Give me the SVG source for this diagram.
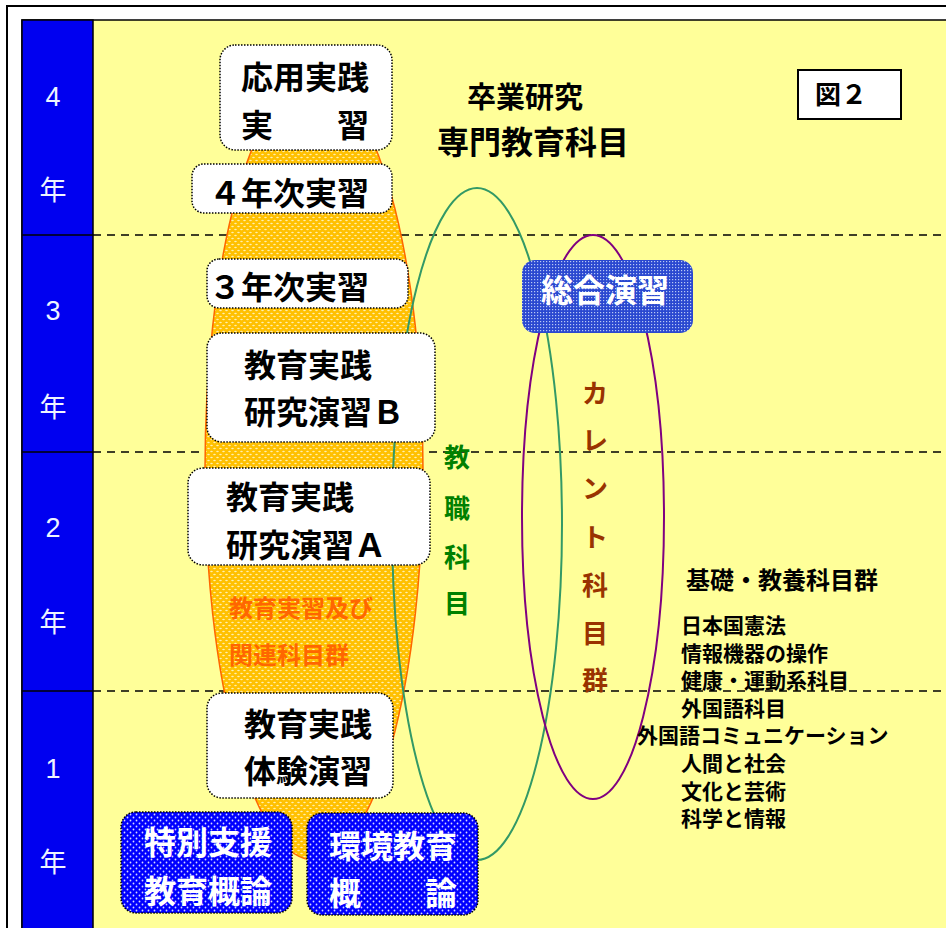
<svg xmlns="http://www.w3.org/2000/svg" width="946" height="928" viewBox="0 0 946 928">
<style>
.jp{font-family:"Noto Sans CJK JP","Noto Sans CJK SC",sans-serif;font-weight:bold;}
.box{fill:#FFFFFF;stroke:#000;stroke-width:1.5;stroke-dasharray:1.5 1.5;}
.bbox{fill:url(#pBlue);stroke:#000;stroke-width:1.5;stroke-dasharray:1.5 1.5;}
.t32{font-size:32px;fill:#000;}
.w32{font-size:32px;fill:#FFFFFF;}
.dash{stroke:#000;stroke-width:1.5;stroke-dasharray:8 6;fill:none;}
.yr{font-family:"Liberation Sans","Noto Sans CJK JP",sans-serif;font-size:27px;fill:#EEF4FF;text-anchor:middle;}
.side{font-size:21px;fill:#000;}
</style>
<defs>
<pattern id="pOrange" width="6" height="6" patternUnits="userSpaceOnUse">
<rect width="6" height="6" fill="#FFC000"/>
<ellipse cx="1.5" cy="1.5" rx="1.3" ry="0.7" fill="#FFF0B0"/>
<ellipse cx="4.5" cy="4.5" rx="1.3" ry="0.7" fill="#FFF0B0"/>
</pattern>
<pattern id="pBlue" width="6" height="6" patternUnits="userSpaceOnUse">
<rect width="6" height="6" fill="#0000FF"/>
<circle cx="1.5" cy="1.5" r="0.9" fill="#FFFFFF" fill-opacity="0.85"/>
<circle cx="4.5" cy="4.5" r="0.9" fill="#FFFFFF" fill-opacity="0.85"/>
</pattern>
<pattern id="pGrid" width="3" height="3" patternUnits="userSpaceOnUse">
<rect width="3" height="3" fill="#2A48D0"/>
<rect x="0" y="0" width="1.2" height="1.2" fill="#B8C8F4"/>
</pattern>
</defs>

<!-- frame -->
<rect x="7" y="6" width="1000" height="1000" fill="#FFFFFF" stroke="#000" stroke-width="2"/>
<rect x="22" y="20" width="1000" height="1000" fill="#FFFF99" stroke="#000" stroke-width="1.5"/>

<!-- year column -->
<g id="years">
<rect x="22" y="20" width="71" height="1000" fill="#0000F0" stroke="#000" stroke-width="1.5"/>
<line x1="22" y1="235" x2="93" y2="235" stroke="#000" stroke-width="1.5"/>
<line x1="22" y1="452" x2="93" y2="452" stroke="#000" stroke-width="1.5"/>
<line x1="22" y1="691" x2="93" y2="691" stroke="#000" stroke-width="1.5"/>
<text class="yr" x="53" y="106">4</text>
<text class="yr" x="53" y="200">年</text>
<text class="yr" x="53" y="320">3</text>
<text class="yr" x="53" y="417">年</text>
<text class="yr" x="53" y="537">2</text>
<text class="yr" x="53" y="632">年</text>
<text class="yr" x="53" y="778">1</text>
<text class="yr" x="53" y="872">年</text>
</g>

<!-- dashed year dividers -->
<g id="dividers">
<line class="dash" x1="93" y1="235" x2="946" y2="235"/>
<line class="dash" x1="93" y1="452" x2="946" y2="452"/>
<line class="dash" x1="93" y1="691" x2="946" y2="691"/>
</g>

<!-- orange practicum spindle -->
<g id="practicum-group">
<ellipse cx="314" cy="470" rx="109" ry="390" fill="url(#pOrange)" stroke="#FF6600" stroke-width="1.5"/>
<text class="jp" x="229" y="617" font-size="24" fill="#FF6600">教育実習及び</text>
<text class="jp" x="229" y="664" font-size="24" fill="#FF6600">関連科目群</text>
</g>

<!-- grouping outlines -->
<g id="connectors">
<ellipse cx="477" cy="524" rx="85" ry="336" fill="none" stroke="#339966" stroke-width="2"/>
<ellipse cx="593" cy="517" rx="71" ry="282" fill="none" stroke="#800080" stroke-width="2"/>
</g>

<g id="n-oyo">
<rect class="box" x="220" y="45" width="172" height="105" rx="15"/>
<text class="jp t32" x="241" y="89">応用実践</text>
<text class="jp t32" x="241" y="137">実　　習</text>
</g>
<g id="n-4nen">
<rect class="box" x="192" y="164" width="200" height="49" rx="12"/>
<text class="jp t32" x="209" y="205">４年次実習</text>
</g>
<g id="n-3nen">
<rect class="box" x="207" y="259" width="201" height="49" rx="12"/>
<text class="jp t32" x="209" y="299">３年次実習</text>
</g>
<g id="n-kenkyuB">
<rect class="box" x="207" y="333" width="228" height="109" rx="15"/>
<text class="jp t32" x="244" y="377">教育実践</text>
<text class="jp t32" x="244" y="424">研究演習Ｂ</text>
</g>
<g id="n-kenkyuA">
<rect class="box" x="188" y="468" width="242" height="97" rx="15"/>
<text class="jp t32" x="226" y="509">教育実践</text>
<text class="jp t32" x="226" y="557">研究演習Ａ</text>
</g>
<g id="n-taiken">
<rect class="box" x="207" y="693" width="186" height="105" rx="15"/>
<text class="jp t32" x="244" y="736">教育実践</text>
<text class="jp t32" x="244" y="783">体験演習</text>
</g>
<g id="n-tokubetsu">
<rect class="bbox" x="121" y="812" width="171" height="101" rx="15"/>
<text class="jp w32" x="144" y="854">特別支援</text>
<text class="jp w32" x="144" y="903">教育概論</text>
</g>
<g id="n-kankyo">
<rect class="bbox" x="307" y="813" width="171" height="102" rx="15"/>
<text class="jp w32" x="329" y="858">環境教育</text>
<text class="jp w32" x="329" y="905">概　　論</text>
</g>
<g id="n-sogo">
<rect x="522" y="260" width="171" height="73" rx="13" fill="url(#pGrid)"/>
<text class="jp w32" x="541" y="302">総合演習</text>
</g>

<g id="n-kyoshoku">
<text class="jp" font-size="26" fill="#008000" text-anchor="middle" x="457" y="467">教</text>
<text class="jp" font-size="26" fill="#008000" text-anchor="middle" x="457" y="518">職</text>
<text class="jp" font-size="26" fill="#008000" text-anchor="middle" x="457" y="567">科</text>
<text class="jp" font-size="26" fill="#008000" text-anchor="middle" x="457" y="613">目</text>
</g>
<g id="n-current">
<text class="jp" font-size="26" fill="#993300" text-anchor="middle" x="595" y="403">カ</text>
<text class="jp" font-size="26" fill="#993300" text-anchor="middle" x="595" y="450">レ</text>
<text class="jp" font-size="26" fill="#993300" text-anchor="middle" x="595" y="498">ン</text>
<text class="jp" font-size="26" fill="#993300" text-anchor="middle" x="595" y="547">ト</text>
<text class="jp" font-size="26" fill="#993300" text-anchor="middle" x="595" y="595">科</text>
<text class="jp" font-size="26" fill="#993300" text-anchor="middle" x="595" y="643">目</text>
<text class="jp" font-size="26" fill="#993300" text-anchor="middle" x="595" y="690">群</text>
</g>

<g id="n-senmon">
<text class="jp" font-size="29" fill="#000" x="467" y="108">卒業研究</text>
<text class="jp" font-size="32" fill="#000" x="437" y="154">専門教育科目</text>
</g>

<g id="n-fig">
<rect x="798" y="70" width="103" height="49" fill="#FFFFFF" stroke="#000" stroke-width="2"/>
<text class="jp" font-size="26" fill="#000" x="815" y="104">図２</text>
</g>

<g id="n-kiso">
<text class="jp" font-size="24" fill="#000" x="686" y="589">基礎・教養科目群</text>
<text class="jp side" x="681" y="633">日本国憲法</text>
<text class="jp side" x="681" y="661">情報機器の操作</text>
<text class="jp side" x="681" y="688">健康・運動系科目</text>
<text class="jp side" x="681" y="716">外国語科目</text>
<text class="jp side" x="637" y="743">外国語コミュニケーション</text>
<text class="jp side" x="681" y="771">人間と社会</text>
<text class="jp side" x="681" y="799">文化と芸術</text>
<text class="jp side" x="681" y="826">科学と情報</text>
</g>
</svg>
